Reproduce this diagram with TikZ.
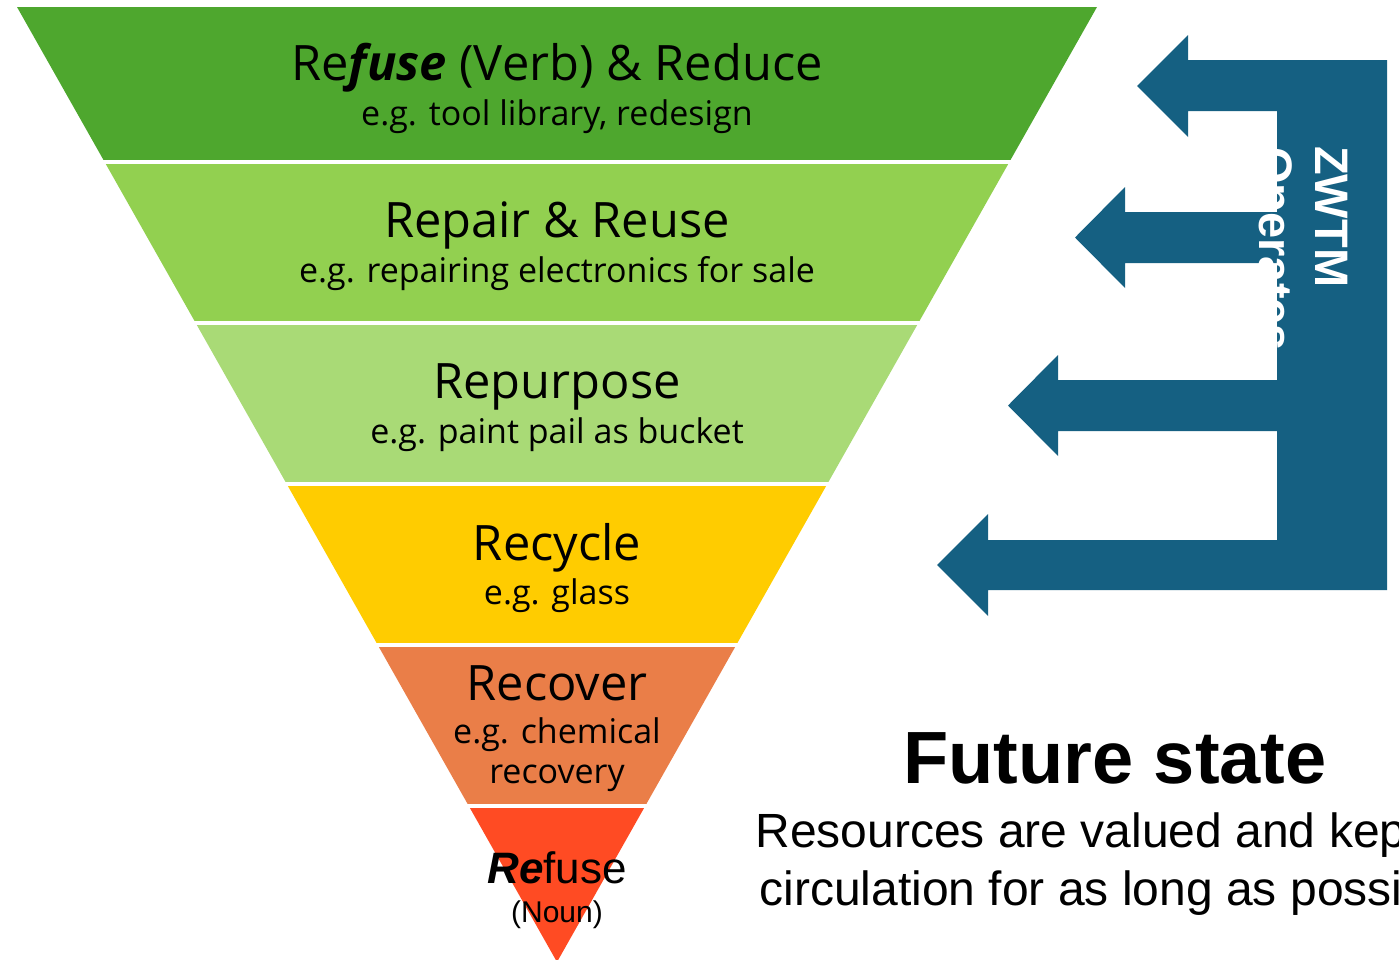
\documentclass[tikz,border=0pt]{standalone}
\usepackage{fontspec}
\setmainfont{Open Sans}
\newfontfamily\arialfont{Liberation Sans}
\definecolor{bandA}{RGB}{78,167,46}
\definecolor{bandB}{RGB}{146,208,80}
\definecolor{bandC}{RGB}{169,218,118}
\definecolor{bandD}{RGB}{255,204,0}
\definecolor{bandE}{RGB}{234,126,72}
\definecolor{bandF}{RGB}{255,75,35}
\definecolor{zwtm}{RGB}{21,96,130}
\tikzset{
  title/.style={font=\fontsize{48.8}{58}\selectfont, anchor=base, inner sep=0pt},
  sub/.style={font=\fontsize{34}{41}\selectfont, anchor=base, inner sep=0pt},
  ztext/.style={font=\arialfont\bfseries\fontsize{47}{56}\selectfont, text=white, rotate=-90, anchor=base west, inner sep=0pt},
  rtext/.style={font=\arialfont\fontsize{48}{58}\selectfont, anchor=base, inner sep=0pt}
}
\begin{document}
\begin{tikzpicture}[x=1pt,y=1pt]
\useasboundingbox (0,0) rectangle (1399,-959);
\clip (0,0) rectangle (1399,-959);
% pyramid bands
\begin{scope}
  \clip (17,-7) -- (1097,-7) -- (557,-962) -- cycle;
  \fill[bandA] (0,-7) rectangle (1399,-160);
  \fill[bandB] (0,-164) rectangle (1399,-321);
  \fill[bandC] (0,-325) rectangle (1399,-482);
  \fill[bandD] (0,-486) rectangle (1399,-643);
  \fill[bandE] (0,-647) rectangle (1399,-804);
  \fill[bandF] (0,-808) rectangle (1399,-962);
\end{scope}
% ZWTM arrows
\fill[zwtm] (1387,-60) -- (1188,-60) -- (1188,-35) -- (1137,-86) -- (1188,-137) -- (1188,-111)
  -- (1277,-111) -- (1277,-212) -- (1125,-212) -- (1125,-187) -- (1075,-237.5) -- (1125,-288) -- (1125,-263)
  -- (1277,-263) -- (1277,-380) -- (1058,-380) -- (1058,-355) -- (1008,-405.5) -- (1058,-456) -- (1058,-431)
  -- (1277,-431) -- (1277,-540) -- (988,-540) -- (988,-514) -- (937,-565) -- (988,-616) -- (988,-590)
  -- (1387,-590) -- cycle;
\node[ztext] (zA) at (1315,-146) {ZWTM};
\node[ztext] (zB) at (1259,-147) {Operates};
% band texts
\node[title] (t1) at (557,-80) {Re\textbf{\textit{fuse}} (Verb) \& Reduce};
\node[sub] (s1) at (557,-125) {e.g. tool library, redesign};
\node[title] (t2) at (557,-237) {Repair \& Reuse};
\node[sub] (s2) at (557,-282) {e.g. repairing electronics for sale};
\node[title] (t3) at (557,-398) {Repurpose};
\node[sub] (s3) at (557,-443) {e.g. paint pail as bucket};
\node[title] (t4) at (557,-560) {Recycle};
\node[sub] (s4) at (557,-604) {e.g. glass};
\node[title] (t5) at (557,-700) {Recover};
\node[sub] (s5) at (557,-743) {e.g. chemical};
\node[sub] (s5b) at (557,-783) {recovery};
\node[anchor=base, inner sep=0pt, font=\arialfont\fontsize{44}{50}\selectfont] (t6) at (557,-883) {\textbf{\textit{Re}}fuse};
\node[anchor=base, inner sep=0pt, font=\arialfont\fontsize{30}{35}\selectfont] (s6) at (557,-922) {(Noun)};
% right text
\node[anchor=base, inner sep=0pt, font=\arialfont\bfseries\fontsize{74}{86}\selectfont] (fs) at (1115,-783) {Future state};
\node[rtext] (r1) at (1113,-847) {Resources are valued and kept in};
\node[rtext] (r2) at (1113,-905) {circulation for as long as possible};
\end{tikzpicture}
\end{document}
